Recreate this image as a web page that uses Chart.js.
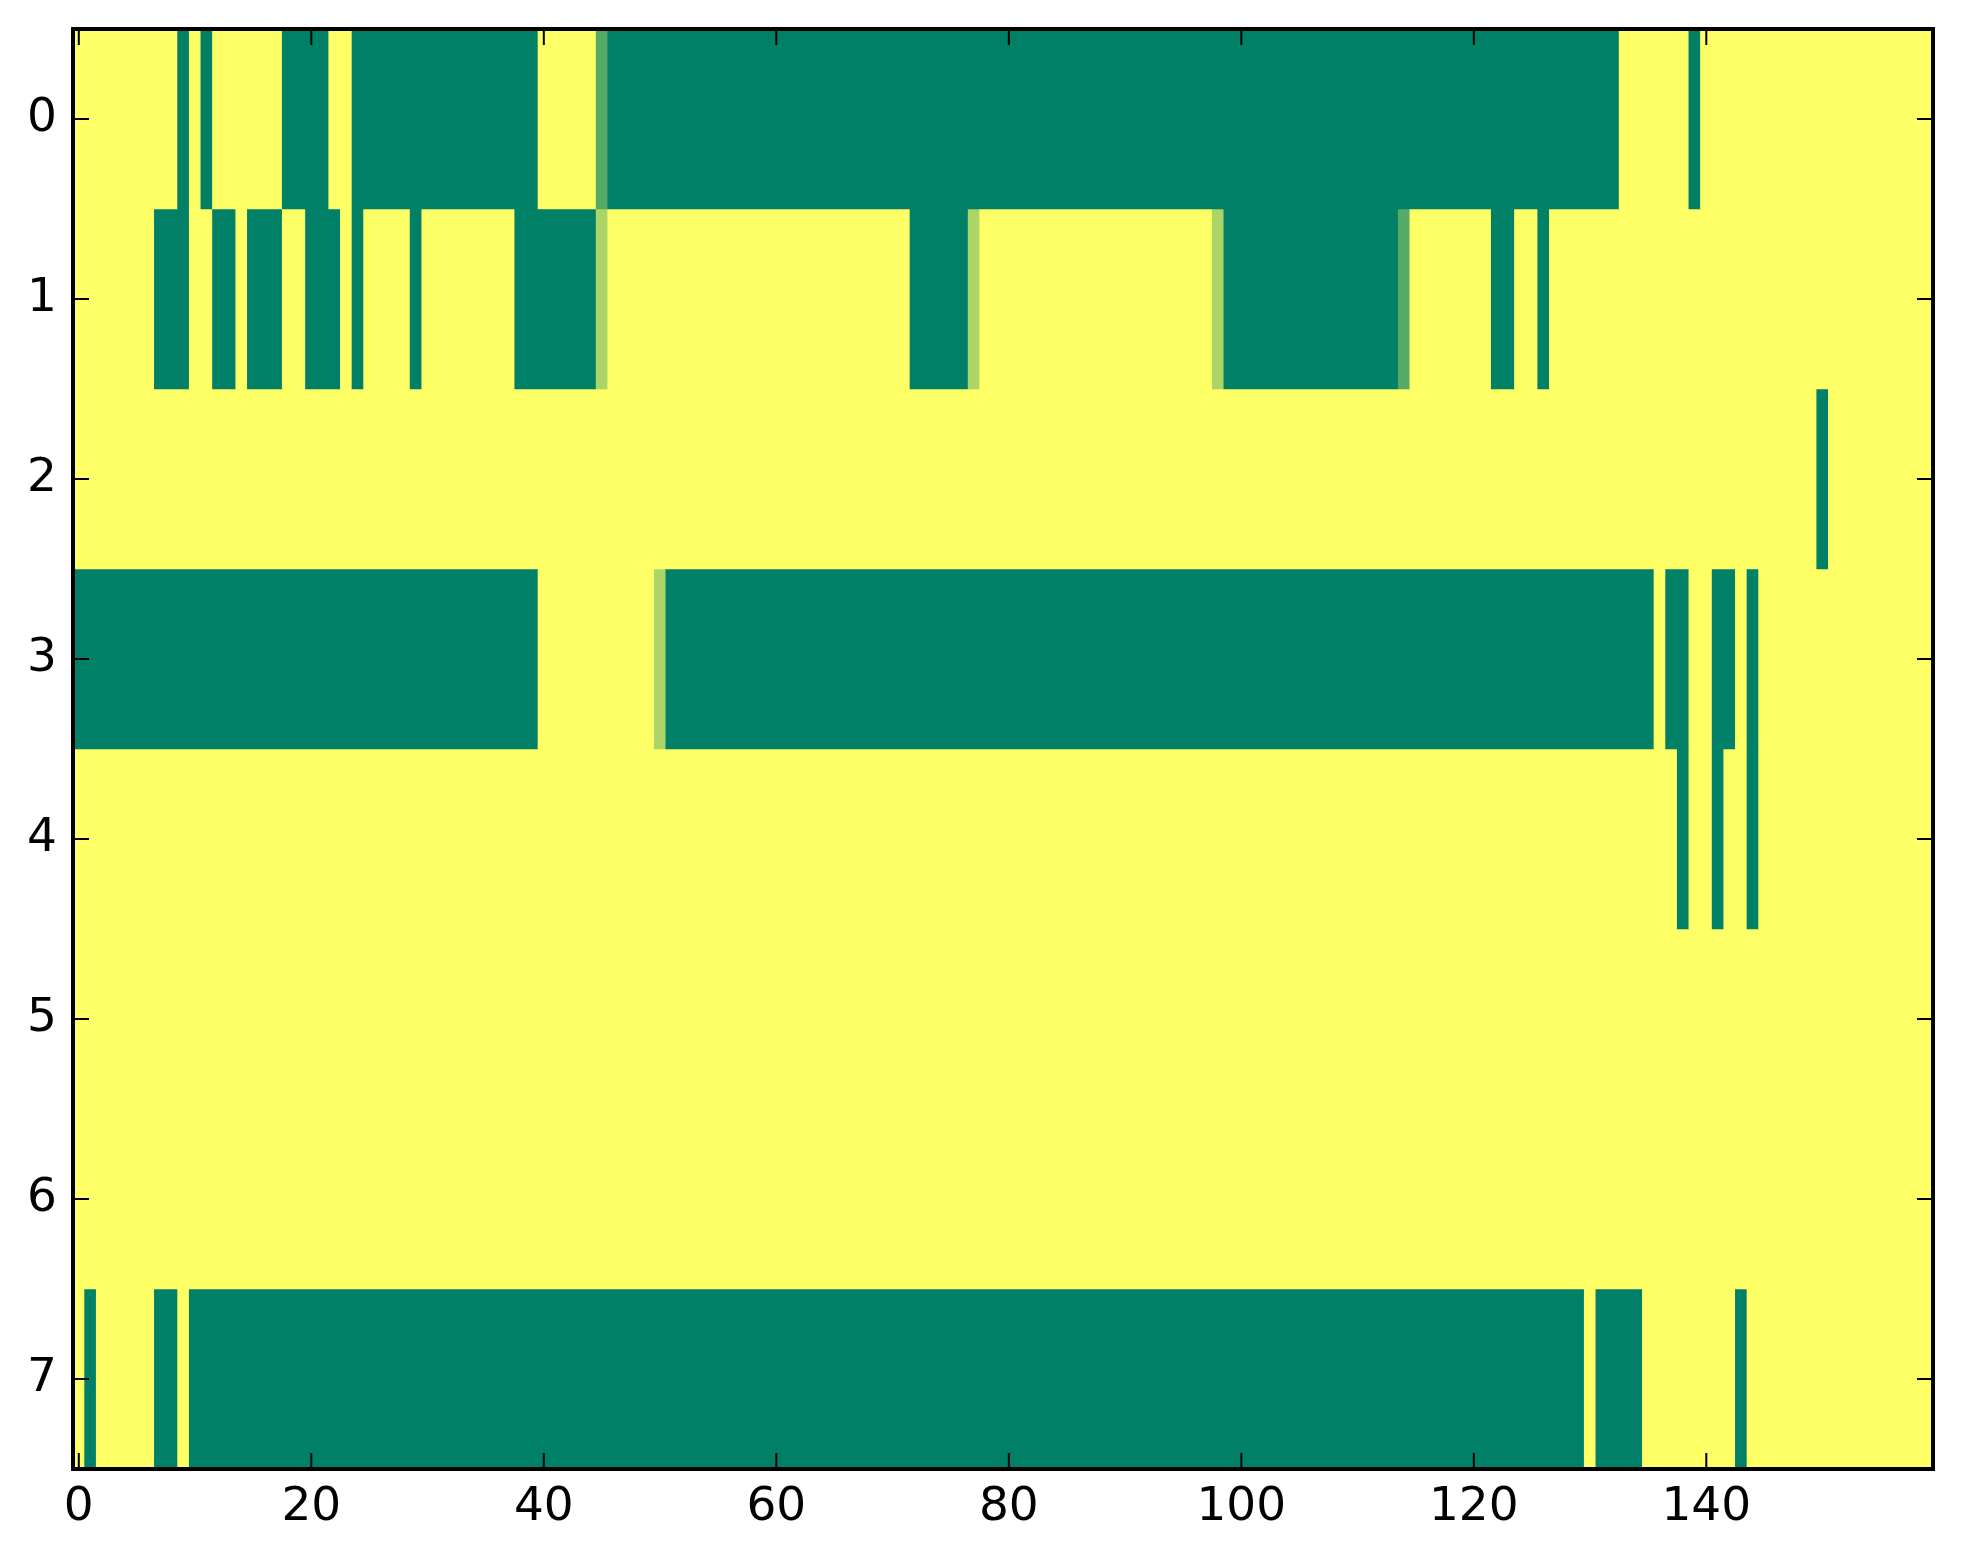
<!DOCTYPE html>
<html>
<head>
<meta charset="utf-8">
<script src="https://cdn.jsdelivr.net/npm/chart.js@4/dist/chart.umd.min.js"></script>
<style>
  html, body { margin: 0; padding: 0; background: #ffffff; }
  #wrap { width: 1963px; height: 1564px; }
</style>
</head>
<body>
<div id="wrap"><canvas id="c" width="1963" height="1564"></canvas></div>
<script>
// ---- data (cell values: 0 = yellow, 1 = dark green, fractions in between) ----
const rowLabels = ['0', '1', '2', '3', '4', '5', '6', '7'];
const xTickValues = [0, 20, 40, 60, 80, 100, 120, 140];
const nCols = 160;

const row0 = [
  0,0,0,0,0,0,0,0,0,1, 0,1,0,0,0,0,0,0,1,1,
  1,1,0,0,1,1,1,1,1,1, 1,1,1,1,1,1,1,1,1,1,
  0,0,0,0,0,0.67,1,1,1,1, 1,1,1,1,1,1,1,1,1,1,
  1,1,1,1,1,1,1,1,1,1, 1,1,1,1,1,1,1,1,1,1,
  1,1,1,1,1,1,1,1,1,1, 1,1,1,1,1,1,1,1,1,1,
  1,1,1,1,1,1,1,1,1,1, 1,1,1,1,1,1,1,1,1,1,
  1,1,1,1,1,1,1,1,1,1, 1,1,1,0,0,0,0,0,0,1,
  0,0,0,0,0,0,0,0,0,0, 0,0,0,0,0,0,0,0,0,0
];
const row1 = [
  0,0,0,0,0,0,0,1,1,1, 0,0,1,1,0,1,1,1,0,0,
  1,1,1,0,1,0,0,0,0,1, 0,0,0,0,0,0,0,0,1,1,
  1,1,1,1,1,0.33,0,0,0,0, 0,0,0,0,0,0,0,0,0,0,
  0,0,0,0,0,0,0,0,0,0, 0,0,1,1,1,1,1,0.33,0,0,
  0,0,0,0,0,0,0,0,0,0, 0,0,0,0,0,0,0,0,0.33,1,
  1,1,1,1,1,1,1,1,1,1, 1,1,1,1,0.67,0,0,0,0,0,
  0,0,1,1,0,0,1,0,0,0, 0,0,0,0,0,0,0,0,0,0,
  0,0,0,0,0,0,0,0,0,0, 0,0,0,0,0,0,0,0,0,0
];
const row2 = [
  0,0,0,0,0,0,0,0,0,0, 0,0,0,0,0,0,0,0,0,0,
  0,0,0,0,0,0,0,0,0,0, 0,0,0,0,0,0,0,0,0,0,
  0,0,0,0,0,0,0,0,0,0, 0,0,0,0,0,0,0,0,0,0,
  0,0,0,0,0,0,0,0,0,0, 0,0,0,0,0,0,0,0,0,0,
  0,0,0,0,0,0,0,0,0,0, 0,0,0,0,0,0,0,0,0,0,
  0,0,0,0,0,0,0,0,0,0, 0,0,0,0,0,0,0,0,0,0,
  0,0,0,0,0,0,0,0,0,0, 0,0,0,0,0,0,0,0,0,0,
  0,0,0,0,0,0,0,0,0,0, 1,0,0,0,0,0,0,0,0,0
];
const row3 = [
  1,1,1,1,1,1,1,1,1,1, 1,1,1,1,1,1,1,1,1,1,
  1,1,1,1,1,1,1,1,1,1, 1,1,1,1,1,1,1,1,1,1,
  0,0,0,0,0,0,0,0,0,0, 0.33,1,1,1,1,1,1,1,1,1,
  1,1,1,1,1,1,1,1,1,1, 1,1,1,1,1,1,1,1,1,1,
  1,1,1,1,1,1,1,1,1,1, 1,1,1,1,1,1,1,1,1,1,
  1,1,1,1,1,1,1,1,1,1, 1,1,1,1,1,1,1,1,1,1,
  1,1,1,1,1,1,1,1,1,1, 1,1,1,1,1,1,0,1,1,0,
  0,1,1,0,1,0,0,0,0,0, 0,0,0,0,0,0,0,0,0,0
];
const row4 = [
  0,0,0,0,0,0,0,0,0,0, 0,0,0,0,0,0,0,0,0,0,
  0,0,0,0,0,0,0,0,0,0, 0,0,0,0,0,0,0,0,0,0,
  0,0,0,0,0,0,0,0,0,0, 0,0,0,0,0,0,0,0,0,0,
  0,0,0,0,0,0,0,0,0,0, 0,0,0,0,0,0,0,0,0,0,
  0,0,0,0,0,0,0,0,0,0, 0,0,0,0,0,0,0,0,0,0,
  0,0,0,0,0,0,0,0,0,0, 0,0,0,0,0,0,0,0,0,0,
  0,0,0,0,0,0,0,0,0,0, 0,0,0,0,0,0,0,0,1,0,
  0,1,0,0,1,0,0,0,0,0, 0,0,0,0,0,0,0,0,0,0
];
const row5 = [
  0,0,0,0,0,0,0,0,0,0, 0,0,0,0,0,0,0,0,0,0,
  0,0,0,0,0,0,0,0,0,0, 0,0,0,0,0,0,0,0,0,0,
  0,0,0,0,0,0,0,0,0,0, 0,0,0,0,0,0,0,0,0,0,
  0,0,0,0,0,0,0,0,0,0, 0,0,0,0,0,0,0,0,0,0,
  0,0,0,0,0,0,0,0,0,0, 0,0,0,0,0,0,0,0,0,0,
  0,0,0,0,0,0,0,0,0,0, 0,0,0,0,0,0,0,0,0,0,
  0,0,0,0,0,0,0,0,0,0, 0,0,0,0,0,0,0,0,0,0,
  0,0,0,0,0,0,0,0,0,0, 0,0,0,0,0,0,0,0,0,0
];
const row6 = [
  0,0,0,0,0,0,0,0,0,0, 0,0,0,0,0,0,0,0,0,0,
  0,0,0,0,0,0,0,0,0,0, 0,0,0,0,0,0,0,0,0,0,
  0,0,0,0,0,0,0,0,0,0, 0,0,0,0,0,0,0,0,0,0,
  0,0,0,0,0,0,0,0,0,0, 0,0,0,0,0,0,0,0,0,0,
  0,0,0,0,0,0,0,0,0,0, 0,0,0,0,0,0,0,0,0,0,
  0,0,0,0,0,0,0,0,0,0, 0,0,0,0,0,0,0,0,0,0,
  0,0,0,0,0,0,0,0,0,0, 0,0,0,0,0,0,0,0,0,0,
  0,0,0,0,0,0,0,0,0,0, 0,0,0,0,0,0,0,0,0,0
];
const row7 = [
  0,1,0,0,0,0,0,1,1,0, 1,1,1,1,1,1,1,1,1,1,
  1,1,1,1,1,1,1,1,1,1, 1,1,1,1,1,1,1,1,1,1,
  1,1,1,1,1,1,1,1,1,1, 1,1,1,1,1,1,1,1,1,1,
  1,1,1,1,1,1,1,1,1,1, 1,1,1,1,1,1,1,1,1,1,
  1,1,1,1,1,1,1,1,1,1, 1,1,1,1,1,1,1,1,1,1,
  1,1,1,1,1,1,1,1,1,1, 1,1,1,1,1,1,1,1,1,1,
  1,1,1,1,1,1,1,1,1,1, 0,1,1,1,1,0,0,0,0,0,
  0,0,0,1,0,0,0,0,0,0, 0,0,0,0,0,0,0,0,0,0
];
const rows = [row0, row1, row2, row3, row4, row5, row6, row7];

// ---- colour map (matplotlib "summer", reversed so 1 = green) ----
function cellColor(v) {
  const t = 1 - v;
  const r = Math.round(255 * t);
  const g = Math.round(255 * (0.5 + 0.5 * t));
  return 'rgb(' + r + ',' + g + ',102)';
}

// merge equal neighbouring cells into runs (avoids seams between bars)
function runsOf(arr, label) {
  const out = [];
  let s = 0;
  for (let c = 1; c <= arr.length; c++) {
    if (c === arr.length || arr[c] !== arr[s]) {
      out.push({ x: [s - 0.5, c - 0.5], y: label, v: arr[s] });
      s = c;
    }
  }
  return out;
}

const datasets = rows.map((arr, r) => ({
  data: runsOf(arr, rowLabels[r]),
  backgroundColor: ctx => cellColor(ctx.raw ? ctx.raw.v : 0),
  borderWidth: 0,
  grouped: false,
  barPercentage: 1.0,
  categoryPercentage: 1.0
}));

const frame = {
  id: 'frame',
  afterDraw(chart) {
    const { ctx, chartArea: a, scales } = chart;
    ctx.save();
    ctx.strokeStyle = '#000';
    ctx.lineWidth = 2;
    const tl = 16;
    ctx.beginPath();
    scales.x.ticks.forEach((t) => {
      const px = scales.x.getPixelForValue(t.value);
      ctx.moveTo(px, a.bottom); ctx.lineTo(px, a.bottom - tl);
      ctx.moveTo(px, a.top); ctx.lineTo(px, a.top + tl);
    });
    scales.y.ticks.forEach((t, i) => {
      const py = scales.y.getPixelForTick(i);
      ctx.moveTo(a.left, py); ctx.lineTo(a.left + tl, py);
      ctx.moveTo(a.right, py); ctx.lineTo(a.right - tl, py);
    });
    ctx.stroke();
    ctx.lineWidth = 4;
    ctx.strokeRect(a.left, a.top, a.right - a.left, a.bottom - a.top);
    ctx.restore();
  }
};

new Chart(document.getElementById('c'), {
  type: 'bar',
  data: { labels: rowLabels, datasets },
  options: {
    indexAxis: 'y',
    responsive: false,
    devicePixelRatio: 1,
    animation: false,
    layout: { padding: { top: 29, right: 30, left: 0, bottom: 0 } },
    plugins: { legend: { display: false }, tooltip: { enabled: false } },
    scales: {
      x: {
        type: 'linear',
        min: -0.5,
        max: nCols - 0.5,
        grid: { display: false, drawTicks: false },
        border: { display: false },
        afterBuildTicks: s => { s.ticks = xTickValues.map(v => ({ value: v })); },
        afterFit: s => { s.height = 95; s.paddingLeft = 0; s.paddingRight = 0; },
        ticks: {
          padding: 11,
          color: '#000',
          maxRotation: 0,
          autoSkip: false,
          font: { family: 'DejaVu Sans', size: 47 }
        }
      },
      y: {
        type: 'category',
        offset: true,
        grid: { display: false, drawTicks: false },
        border: { display: false },
        afterFit: s => { s.width = 73; s.paddingTop = 0; s.paddingBottom = 0; },
        ticks: {
          padding: 16,
          color: '#000',
          autoSkip: false,
          font: { family: 'DejaVu Sans', size: 47 }
        }
      }
    }
  },
  plugins: [frame]
});
</script>
</body>
</html>
